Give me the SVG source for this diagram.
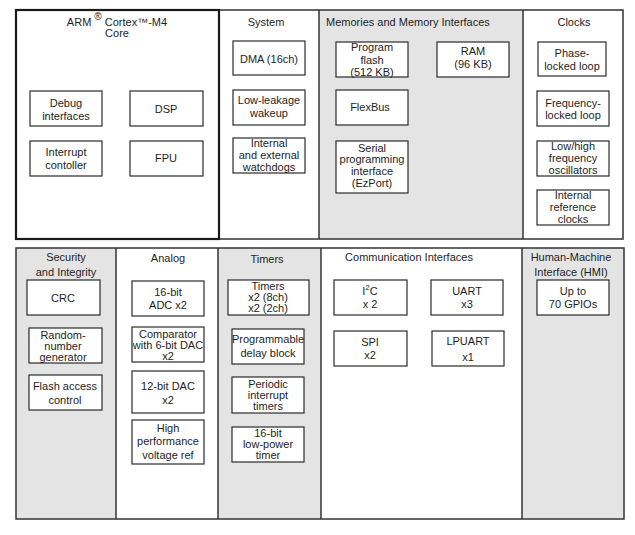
<svg xmlns="http://www.w3.org/2000/svg" width="635" height="535" viewBox="0 0 635 535">
<style>
text{font-family:"Liberation Sans",Arial,sans-serif;font-size:11px;fill:#1e1e1e;text-anchor:middle}
.t{text-anchor:start}
.sup{font-size:8px}
.reg{font-size:10px}
.box{fill:#fff;stroke:#2a2a2a;stroke-width:1.2}
.grey{fill:#e4e4e4}
.frame{fill:none;stroke:#333;stroke-width:1.5}
.div{stroke:#333;stroke-width:1.5}
</style>
<rect width="635" height="535" fill="#fff"/>
<g id="sections">
<rect class="grey" x="319" y="10" width="204" height="229"/>
<rect class="grey" x="16" y="248" width="100" height="271"/>
<rect class="grey" x="218" y="248" width="103" height="271"/>
<rect class="grey" x="522" y="248" width="102" height="271"/>
<rect class="frame" x="16" y="10" width="607" height="229"/>
<line class="div" x1="319" y1="10" x2="319" y2="239"/>
<line class="div" x1="523" y1="10" x2="523" y2="239"/>
<rect x="16" y="10" width="203" height="229" fill="none" stroke="#1a1a1a" stroke-width="2.2"/>
<rect class="frame" x="16" y="248" width="608" height="271"/>
<line class="div" x1="116" y1="248" x2="116" y2="519"/>
<line class="div" x1="218" y1="248" x2="218" y2="519"/>
<line class="div" x1="321" y1="248" x2="321" y2="519"/>
<line class="div" x1="522" y1="248" x2="522" y2="519"/>
</g>
<g id="titles">
<text x="117" y="26">ARM <tspan class="reg" dy="-6">®</tspan><tspan dy="6"> Cortex™-M4</tspan></text>
<text x="117" y="37">Core</text>
<text x="266" y="26">System</text>
<text class="t" x="326" y="26">Memories and Memory Interfaces</text>
<text x="574" y="26">Clocks</text>
<text x="66" y="261">Security</text>
<text x="66" y="276">and Integrity</text>
<text x="168" y="262">Analog</text>
<text x="267" y="263">Timers</text>
<text x="409" y="261">Communication Interfaces</text>
<text x="571" y="261">Human-Machine</text>
<text x="571" y="276">Interface (HMI)</text>
</g>
<g id="debug"><rect class="box" x="30" y="91" width="72" height="35"/><text x="66" y="107">Debug</text><text x="66" y="120">interfaces</text></g>
<g id="dsp"><rect class="box" x="130" y="91" width="73" height="35"/><text x="166" y="113">DSP</text></g>
<g id="interrupt"><rect class="box" x="30" y="141" width="72" height="35"/><text x="66" y="156">Interrupt</text><text x="66" y="169">contoller</text></g>
<g id="fpu"><rect class="box" x="130" y="141" width="73" height="35"/><text x="166" y="162">FPU</text></g>
<g id="dma"><rect class="box" x="233" y="41" width="72" height="34"/><text x="269" y="63">DMA (16ch)</text></g>
<g id="llwu"><rect class="box" x="233" y="90" width="72" height="35"/><text x="269" y="104">Low-leakage</text><text x="269" y="117">wakeup</text></g>
<g id="wdog"><rect class="box" x="233" y="138" width="72" height="35"/><text x="269" y="147">Internal</text><text x="269" y="159">and external</text><text x="269" y="171">watchdogs</text></g>
<g id="flash"><rect class="box" x="336" y="42" width="72" height="35"/><text x="372" y="51">Program</text><text x="372" y="64">flash</text><text x="372" y="76">(512 KB)</text></g>
<g id="ram"><rect class="box" x="437" y="42" width="72" height="35"/><text x="473" y="55">RAM</text><text x="473" y="68">(96 KB)</text></g>
<g id="flexbus"><rect class="box" x="336" y="90" width="72" height="35"/><text x="370" y="111">FlexBus</text></g>
<g id="ezport"><rect class="box" x="336" y="141" width="72" height="52"/><text x="372" y="152">Serial</text><text x="372" y="163">programming</text><text x="372" y="175">interface</text><text x="372" y="187">(EzPort)</text></g>
<g id="pll"><rect class="box" x="538" y="42" width="68" height="34"/><text x="572" y="57">Phase-</text><text x="572" y="70">locked loop</text></g>
<g id="fll"><rect class="box" x="537" y="91" width="72" height="35"/><text x="573" y="107">Frequency-</text><text x="573" y="119">locked loop</text></g>
<g id="osc"><rect class="box" x="537" y="141" width="72" height="35"/><text x="573" y="150">Low/high</text><text x="573" y="162">frequency</text><text x="573" y="174">oscillators</text></g>
<g id="irc"><rect class="box" x="537" y="190" width="72" height="35"/><text x="573" y="199">Internal</text><text x="573" y="211">reference</text><text x="573" y="223">clocks</text></g>
<g id="crc"><rect class="box" x="27" y="280" width="73" height="35"/><text x="63" y="302">CRC</text></g>
<g id="rng"><rect class="box" x="29" y="328" width="73" height="35"/><text x="63" y="339">Random-</text><text x="63" y="350">number</text><text x="63" y="361">generator</text></g>
<g id="fac"><rect class="box" x="29" y="375" width="73" height="35"/><text x="65" y="390">Flash access</text><text x="65" y="404">control</text></g>
<g id="adc"><rect class="box" x="132" y="281" width="72" height="35"/><text x="168" y="296">16-bit</text><text x="168" y="309">ADC x2</text></g>
<g id="cmp"><rect class="box" x="132" y="327" width="72" height="35"/><text x="168" y="338">Comparator</text><text x="168" y="349">with 6-bit DAC</text><text x="168" y="360">x2</text></g>
<g id="dac"><rect class="box" x="132" y="371" width="72" height="42"/><text x="168" y="390">12-bit DAC</text><text x="168" y="404">x2</text></g>
<g id="vref"><rect class="box" x="132" y="420" width="72" height="44"/><text x="168" y="432">High</text><text x="168" y="445">performance</text><text x="168" y="459">voltage ref</text></g>
<g id="tmr"><rect class="box" x="228" y="280" width="81" height="35"/><text x="268" y="290">Timers</text><text x="268" y="301">x2 (8ch)</text><text x="268" y="312">x2 (2ch)</text></g>
<g id="pdb"><rect class="box" x="232" y="329" width="72" height="35"/><text x="268" y="343">Programmable</text><text x="268" y="357">delay block</text></g>
<g id="pit"><rect class="box" x="232" y="377" width="72" height="36"/><text x="268" y="388">Periodic</text><text x="268" y="399">interrupt</text><text x="268" y="410">timers</text></g>
<g id="lptmr"><rect class="box" x="232" y="427" width="72" height="35"/><text x="268" y="437">16-bit</text><text x="268" y="448">low-power</text><text x="268" y="459">timer</text></g>
<g id="i2c"><rect class="box" x="334" y="280" width="73" height="35"/><text x="370" y="295">I<tspan class="sup" dy="-5">2</tspan><tspan dy="5">C</tspan></text><text x="370" y="308">x 2</text></g>
<g id="uart"><rect class="box" x="431" y="280" width="72" height="35"/><text x="467" y="295">UART</text><text x="467" y="308">x3</text></g>
<g id="spi"><rect class="box" x="334" y="331" width="73" height="35"/><text x="370" y="346">SPI</text><text x="370" y="359">x2</text></g>
<g id="lpuart"><rect class="box" x="432" y="331" width="72" height="35"/><text x="468" y="345">LPUART</text><text x="468" y="361">x1</text></g>
<g id="gpio"><rect class="box" x="537" y="280" width="72" height="35"/><text x="573" y="295">Up to</text><text x="573" y="308">70 GPIOs</text></g>
<g id="connectors"></g>
</svg>
